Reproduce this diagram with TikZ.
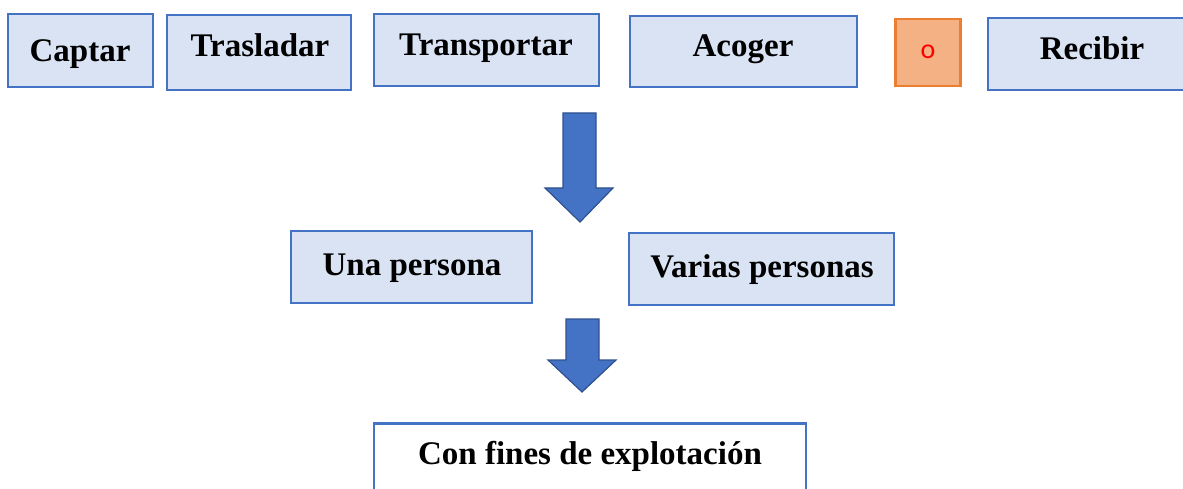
\documentclass[tikz,border=0pt]{standalone}
\usepackage{fontspec}
\setmainfont{Liberation Serif}
\newfontfamily\calib{Carlito}
\definecolor{boxfill}{HTML}{DAE3F3}
\definecolor{boxline}{HTML}{4472C4}
\definecolor{arrline}{HTML}{2F528F}
\definecolor{orfill}{HTML}{F4B183}
\definecolor{orline}{HTML}{ED7D31}
\tikzset{
  box/.style={draw=boxline, fill=boxfill, line width=2.5pt, inner sep=0pt},
  lbl/.style={anchor=base, inner sep=0pt, font=\fontsize{33}{38}\selectfont\bfseries},
  orbox/.style={draw=orline, fill=orfill, line width=2.5pt, inner sep=0pt,
    font=\calib\fontsize{28}{32}\selectfont, text=red},
  blockarrow/.style={fill=boxline, draw=arrline, line width=1.2pt, line join=miter},
}
\begin{document}
\begin{tikzpicture}[x=1pt,y=-1pt]
\useasboundingbox (0,0) rectangle (1183,489);
\clip (0,0) rectangle (1183,489);
% top row
\node[box, minimum width=145, minimum height=73] (captar) at (80.5,50.5) {};
\node[lbl] (captart) at (80,62) {Captar};
\node[box, minimum width=184, minimum height=75] (tras) at (259,52.5) {};
\node[lbl] (trast) at (260,57) {Trasladar};
\node[box, minimum width=225, minimum height=72] (transp) at (486.5,50) {};
\node[lbl] (transpt) at (486,56) {Transportar};
\node[box, minimum width=227, minimum height=71] (acoger) at (743.5,51.5) {};
\node[lbl] (acogert) at (743,57) {Acoger};
\node[orbox, minimum width=65, minimum height=67] (o) at (928,52.5) {};
\node[anchor=center, inner sep=0pt, font=\calib\fontsize{28}{32}\selectfont, text=red] (ot) at (928,52) {o};
\node[box, minimum width=210, minimum height=72] (recibir) at (1093,54) {};
\node[lbl] (recibirt) at (1092,60) {Recibir};
% arrow 1
\draw[blockarrow] (563,113) -- (596,113) -- (596,188) -- (613,188) -- (580,222) -- (545,188) -- (563,188) -- cycle;
% middle row
\node[box, minimum width=241, minimum height=72] (una) at (411.5,267) {};
\node[lbl] (unat) at (412,275) {Una persona};
\node[box, minimum width=265, minimum height=72] (varias) at (761.5,269) {};
\node[lbl] (variast) at (762,277) {Varias personas};
% arrow 2
\draw[blockarrow] (566,319) -- (599,319) -- (599,360) -- (616,360) -- (582,392) -- (548,360) -- (566,360) -- cycle;
% bottom
\node[box, fill=white, minimum width=432, minimum height=90, anchor=north] (fines) at (590,422) {};
\node[lbl] (finest) at (590,464) {Con fines de explotación};
\end{tikzpicture}
\end{document}
